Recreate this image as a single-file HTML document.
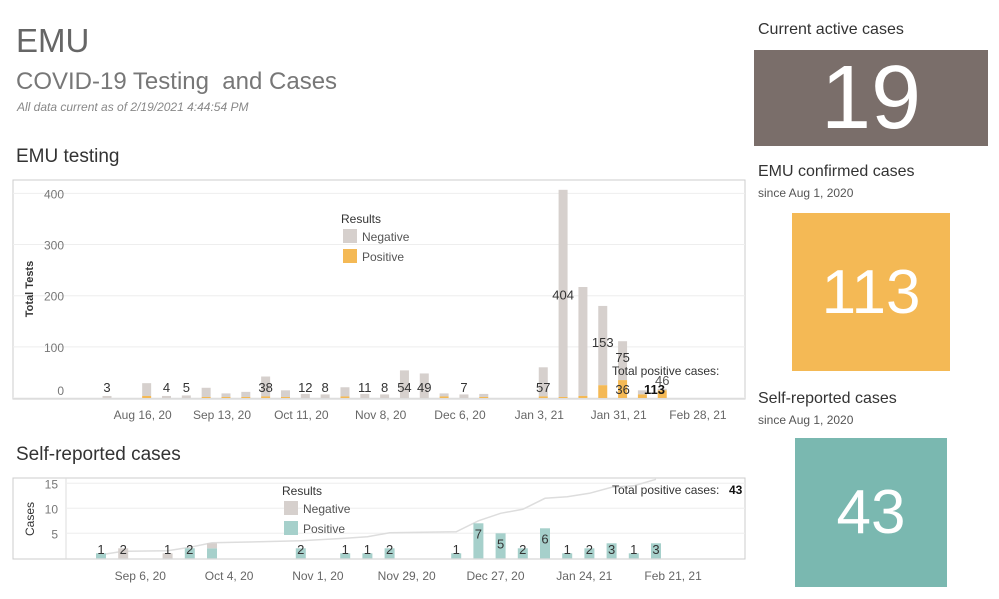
<!DOCTYPE html>
<html><head><meta charset="utf-8"><style>
body{margin:0;width:999px;height:599px;background:#fff;font-family:"Liberation Sans",sans-serif;position:relative;overflow:hidden}
.t{position:absolute;color:#555;white-space:nowrap}
.box{position:absolute;color:#fff;display:flex;align-items:center;justify-content:center}
svg text{font-family:"Liberation Sans",sans-serif}
</style></head><body>
<div class="t" style="left:16px;top:22px;font-size:33px;color:#666">EMU</div>
<div class="t" style="left:16px;top:68px;font-size:24px;color:#777">COVID-19 Testing&nbsp; and Cases</div>
<div class="t" style="left:17px;top:100px;font-size:12px;font-style:italic;color:#888">All data current as of 2/19/2021 4:44:54 PM</div>
<div class="t" style="left:16px;top:146px;font-size:19px;color:#333">EMU testing</div>
<div class="t" style="left:16px;top:444px;font-size:19px;color:#333">Self-reported cases</div>

<div class="t" style="left:758px;top:21px;font-size:16px;color:#333">Current active cases</div>
<div class="box" style="left:754px;top:50px;width:234px;height:96px;background:#7a6e6a;font-size:90px">19</div>
<div class="t" style="left:758px;top:163px;font-size:16px;color:#333">EMU confirmed cases</div>
<div class="t" style="left:758px;top:186px;font-size:12px;color:#555">since Aug 1, 2020</div>
<div class="box" style="left:792px;top:213px;width:158px;height:158px;background:#f4b955;font-size:62px">113</div>
<div class="t" style="left:758px;top:390px;font-size:16px;color:#333">Self-reported cases</div>
<div class="t" style="left:758px;top:413px;font-size:12px;color:#555">since Aug 1, 2020</div>
<div class="box" style="left:795px;top:438px;width:152px;height:149px;background:#7ab8b0;font-size:62px">43</div>

<svg id="c1" style="position:absolute;left:0;top:0" width="999" height="599"></svg>
<script>
// Top chart data (weekly, starting Aug 2 2020)
const testWeeks=[0,2,3,4,5,6,7,8,9,10,11,12,13,14,15,16,17,18,19,22,23,24,25,26,27,28];
const testNeg=[4,25,4,5,18,7,10,39,13,8,7,18,8,7,54,48,6,7,6,57,405,213,155,76,8,3];
const testPos=[0,4,0,0,2,2,2,3,2,0,0,3,0,0,0,0,3,0,2,3,2,4,25,35,7,15];
const testLabels=["3","","4","5","","","","38","","12","8","","11","8","54","49","","7","","57","404","","153","75","",""];
const testTicks=["Aug 16, 20","Sep 13, 20","Oct 11, 20","Nov 8, 20","Dec 6, 20","Jan 3, 21","Jan 31, 21","Feb 28, 21"];
const testYTicks=[0,100,200,300,400];
// Bottom chart data (weekly, starting Aug 30 2020)
const selfWeeks=[0,1,3,4,5,9,11,12,13,16,17,18,19,20,21,22,23,24,25];
const selfPos=[1,0,0,2,2,2,1,1,2,1,7,5,2,6,1,2,3,1,3];
const selfNeg=[0,2,1,0,1,0,0,0,0,0,0,0,0,0,0,0,0,0,0];
const selfLabels=["1","2","1","2","","2","1","1","2","1","7","5","2","6","1","2","3","1","3"];
const selfCum=[0.7,1.4,1.5,2.2,3.1,3.5,4,4.3,5.1,5.3,7.5,9,9.8,12,12.3,13,14.2,14.5,15.8];
const selfTicks=["Sep 6, 20","Oct 4, 20","Nov 1, 20","Nov 29, 20","Dec 27, 20","Jan 24, 21","Feb 21, 21"];
const selfYTicks=[5,10,15];

const NS="http://www.w3.org/2000/svg";
const svg=document.getElementById('c1');
function mk(tag,at,parent){const e=document.createElementNS(NS,tag);for(const k in at)e.setAttribute(k,at[k]);(parent||svg).appendChild(e);return e;}
function txt(s,at){const e=mk('text',at);e.textContent=s;return e;}

// ---- top chart
const x1=i=>107+i*19.83, y1=v=>398-v*0.5115;
let fr=mk('rect',{x:13,y:180,width:732,height:219,fill:'none',stroke:'#ccc'});

testYTicks.forEach(v=>{
 const g=mk('line',{x1:13,x2:745,y1:y1(v),y2:y1(v),stroke:'#eee'});
 
 const t=txt(v,{x:64,y:y1(v)+(v==0?-3:5),'text-anchor':'end','font-size':12,fill:'#777'});
 
});
const yt=txt('Total Tests',{x:0,y:0,transform:'translate(33,289) rotate(-90)','text-anchor':'middle','font-size':11,fill:'#333','font-weight':'bold'});

testTicks.forEach((s,i)=>{const t=txt(s,{x:x1(1.8+i*4),y:419,'text-anchor':'middle','font-size':12,fill:'#666'});
 });
testWeeks.forEach((w,i)=>{
 const cx=x1(w);
 const n=mk('rect',{x:cx-4.5,y:y1(testNeg[i]+testPos[i]),width:9,height:testNeg[i]*0.5115,fill:'#d6d0cd'});
 
 const p=mk('rect',{x:cx-4.5,y:y1(testPos[i]),width:9,height:testPos[i]*0.5115,fill:'#f4b955'});
 
 if(testLabels[i]){const t=txt(testLabels[i],{x:cx,y:y1(0)-6,'text-anchor':'middle','font-size':13,fill:'#333'});
  if(testNeg[i]>300)t.setAttribute('y',y1(200)+4);
  else if(testNeg[i]>100)t.setAttribute('y',y1(100));
  else if(testNeg[i]>60)t.setAttribute('y',y1(70));
  }
});
txt('36',{x:x1(26),y:394,'text-anchor':'middle','font-size':13,fill:'#333'});
txt('46',{x:x1(28),y:385,'text-anchor':'middle','font-size':13,fill:'#555'});
txt('Total positive cases:',{x:612,y:375,'font-size':12,fill:'#333'});
txt('113',{x:644,y:394,'font-size':13,fill:'#111','font-weight':'bold'});
txt('Results',{x:341,y:223,'font-size':12,fill:'#333'});
mk('rect',{x:343,y:229,width:14,height:14,fill:'#d6d0cd'});txt('Negative',{x:362,y:241,'font-size':12,fill:'#555'});
mk('rect',{x:343,y:249,width:14,height:14,fill:'#f4b955'});txt('Positive',{x:362,y:261,'font-size':12,fill:'#555'});

// ---- bottom chart
const x2=i=>101+i*22.2, y2=v=>558.3-v*5;
mk('rect',{x:13,y:478,width:732,height:81,fill:'none',stroke:'#ccc'});
mk('line',{x1:66,x2:66,y1:478,y2:559,stroke:'#ddd'});
selfYTicks.forEach(v=>{mk('line',{x1:66,x2:745,y1:y2(v),y2:y2(v),stroke:'#eee'});
 const t=txt(v,{x:58,y:y2(v)+5,'text-anchor':'end','font-size':12,fill:'#777'});
 });
const yt2=txt('Cases',{x:0,y:0,transform:'translate(34,519) rotate(-90)','text-anchor':'middle','font-size':12,fill:'#333'});

selfTicks.forEach((s,i)=>{const t=txt(s,{x:x2(1.77+i*4),y:580,'text-anchor':'middle','font-size':12,fill:'#666'});
 });
let pts=selfWeeks.map((w,i)=>x2(w)+','+y2(selfCum[i])).join(' ');
const ln=mk('polyline',{points:pts,fill:'none',stroke:'#ddd','stroke-width':1.5});

selfWeeks.forEach((w,i)=>{
 const cx=x2(w);
 const p=mk('rect',{x:cx-5,y:y2(selfPos[i]),width:10,height:selfPos[i]*5,fill:'#a6d0cb'});
 
 const n=mk('rect',{x:cx-5,y:y2(selfPos[i]+selfNeg[i]),width:10,height:selfNeg[i]*5,fill:'#d6d0cd'});
 
 if(selfLabels[i]){const t=txt(selfLabels[i],{x:cx,y:selfPos[i]>4?y2(selfPos[i])+15:554,'text-anchor':'middle','font-size':13,fill:'#333'});
  }
});
txt('Total positive cases: ',{x:612,y:494,'font-size':12,fill:'#333'});
txt('43',{x:729,y:494,'font-size':12,fill:'#111','font-weight':'bold'});
txt('Results',{x:282,y:495,'font-size':12,fill:'#333'});
mk('rect',{x:284,y:501,width:14,height:14,fill:'#d6d0cd'});txt('Negative',{x:303,y:513,'font-size':12,fill:'#555'});
mk('rect',{x:284,y:521,width:14,height:14,fill:'#a6d0cb'});txt('Positive',{x:303,y:533,'font-size':12,fill:'#555'});
</script>
</body></html>
